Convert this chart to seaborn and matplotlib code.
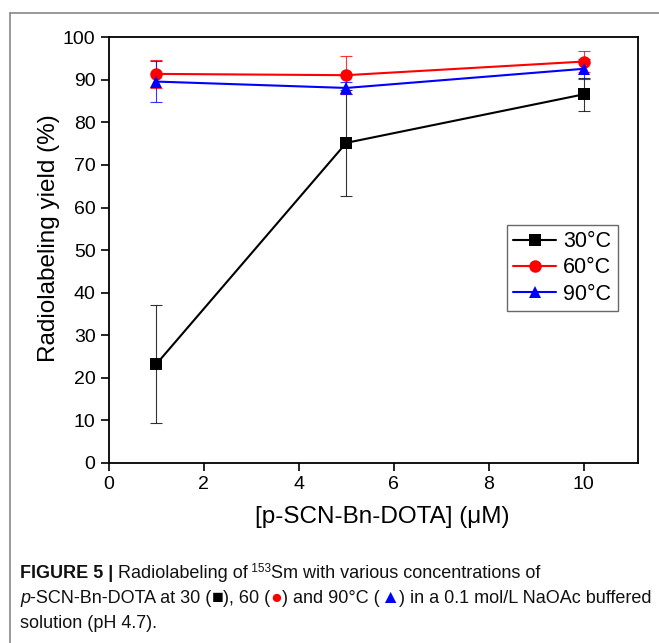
import numpy as np
import pandas as pd
import matplotlib
matplotlib.use("Agg")
import matplotlib.pyplot as plt
from matplotlib.lines import Line2D
import seaborn as sns

# data
conc = [1, 5, 10]
temps = ["30°C", "60°C", "90°C"]
yield_30 = [23.2, 75.2, 86.6]
err_30 = [13.9, 12.5, 3.9]
yield_60 = [91.4, 91.1, 94.3]
err_60 = [3.3, 4.4, 2.4]
yield_90 = [89.6, 88.1, 92.6]
err_90 = [4.8, 1.5, 2.4]

colors = ["black", "red", "blue"]
markers = ["s", "o", "^"]

df = pd.DataFrame({
    "conc": conc * 3,
    "yield": yield_30 + yield_60 + yield_90,
    "err": err_30 + err_60 + err_90,
    "temp": np.repeat(temps, 3),
})

sns.set_style("ticks")
plt.rcParams["font.family"] = ["Liberation Sans", "DejaVu Sans"]
plt.rcParams["text.color"] = "black"
plt.rcParams["axes.labelcolor"] = "black"

fig = plt.figure(figsize=(6.59, 6.43), dpi=100)
ax = fig.add_axes([0.165, 0.280, 0.803, 0.662])

# error bars first, then lines with markers on top
for t, c in zip(temps, colors):
    sub = df[df["temp"] == t]
    ax.errorbar(sub["conc"], sub["yield"], yerr=sub["err"], fmt="none",
                ecolor=c, elinewidth=0.8, capsize=4, capthick=0.8, alpha=0.8, zorder=2)

sns.lineplot(data=df, x="conc", y="yield", hue="temp", style="temp",
             palette=colors, markers=markers, dashes=False, markersize=9,
             markeredgewidth=0, linewidth=1.5, ax=ax, zorder=3)

ax.set_xlim(0, 11.14)
ax.set_ylim(0, 100)
ax.set_xticks(range(0, 11, 2))
ax.set_yticks(range(0, 101, 10))
ax.tick_params(direction="out", length=6, width=1.2, labelsize=14, colors="black",
               top=False, right=False)
for sp in ax.spines.values():
    sp.set_linewidth(1.3)
    sp.set_color("black")
ax.set_xlabel("[p-SCN-Bn-DOTA] (μM)", fontsize=17.5, labelpad=9)
ax.set_ylabel("Radiolabeling yield (%)", fontsize=17.5, labelpad=2)
ax.xaxis.label.set_x(0.516)
ax.yaxis.label.set_y(0.528)

handles, labels = ax.get_legend_handles_labels()
leg = ax.legend(handles, labels, loc="upper left", bbox_to_anchor=(0.752, 0.56),
                fontsize=15.5, frameon=True, fancybox=False, handlelength=2.0,
                borderpad=0.3, labelspacing=0.25, handletextpad=0.33,
                borderaxespad=0, markerscale=1.0)
leg.get_frame().set_edgecolor("#444444")
leg.get_frame().set_linewidth(1.0)

# outer frame lines (top and left)
fig.add_artist(Line2D([0.0152, 1.0], [0.98, 0.98], transform=fig.transFigure,
                      color="#888888", linewidth=1.2))
fig.add_artist(Line2D([0.0152, 0.0152], [0.0, 0.98], transform=fig.transFigure,
                      color="#888888", linewidth=1.2))

# caption, drawn piece by piece
renderer = fig.canvas.get_renderer()
cap_font = ["Liberation Sans Narrow", "Liberation Sans", "DejaVu Sans"]
cap_size = 13


def text_width(text, opts):
    t = fig.text(0, 0, text, **opts)
    w = t.get_window_extent(renderer).width
    t.remove()
    return w


def rich_line(x, y, pieces):
    for text, kw in pieces:
        opts = dict(fontsize=cap_size, family=cap_font, color="#111111", va="baseline")
        opts.update(kw)
        dy = opts.pop("dy", 0)
        fig.text(x, y + dy, text, **opts)
        # measure with guard letters so that spaces are counted
        w = text_width("|" + text + "|", opts) - text_width("||", opts)
        x += w / fig.bbox.width


x0 = 20 / 659
rich_line(x0, 1 - 578 / 643, [
    ("FIGURE 5 | ", dict(weight="bold")),
    ("Radiolabeling of", {}),
    (" 153", dict(fontsize=8.5, dy=0.009)),
    ("Sm with various concentrations of", {}),
])
rich_line(x0, 1 - 603 / 643, [
    ("p", dict(style="italic")),
    ("-SCN-Bn-DOTA at 30 (", {}),
    ("■", dict(color="black", fontsize=14)),
    ("), 60 (", {}),
    ("●", dict(color="red", fontsize=14)),
    (") and 90°C (", {}),
    ("▲", dict(color="blue", fontsize=14)),
    (") in a 0.1 mol/L NaOAc buffered", {}),
])
rich_line(x0, 1 - 628 / 643, [
    ("solution (pH 4.7).", {}),
])

fig.savefig("out.png", dpi=100)
